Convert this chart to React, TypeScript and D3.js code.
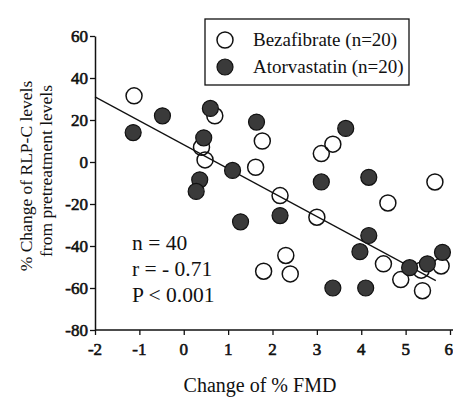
import React, { useRef, useEffect } from "react";
import * as d3 from "d3";

// Bezafibrate (open circles): change of %FMD vs % change of RLP-C
const bezaFmd = [-1.12, 0.7, 0.4, 0.48, 1.77, 1.62, 2.17, 3.36, 3.1, 5.66, 4.6, 3.0, 2.3, 1.8, 2.4, 4.5, 4.89, 5.35, 5.8, 5.38];
const bezaRlp = [31.5, 22, 7, 1, 10, -2.5, -16, 8.5, 4, -9.5, -19.5, -26.3, -44.5, -52, -53.3, -48.5, -56, -51.5, -49.5, -61.3];

// Atorvastatin (filled circles)
const atorFmd = [-1.14, -0.48, 0.6, 0.45, 0.36, 0.28, 1.1, 1.64, 3.65, 3.1, 4.17, 1.28, 2.17, 3.36, 4.17, 3.97, 5.09, 5.49, 5.83, 4.1];
const atorRlp = [14, 22, 25.5, 11.5, -8.5, -14, -4, 19, 16, -9.5, -7.3, -28.5, -25.5, -60, -35, -42.7, -50.3, -48.5, -43, -60];

// regression line end points
const fitFmd = [-2, 5.68];
const fitRlp = [31, -56.5];

const xTicks = [-2, -1, 0, 1, 2, 3, 4, 5, 6];
const yTicks = [-80, -60, -40, -20, 0, 20, 40, 60];

const legendLabels = ["Bezafibrate (n=20)", "Atorvastatin (n=20)"];
const statLines = ["n = 40", "r = - 0.71", "P < 0.001"];

export default function App() {
  const ref = useRef<SVGSVGElement>(null);

  useEffect(() => {
    const width = 453;
    const height = 397;
    const margin = { top: 36, right: 3, bottom: 67, left: 95 };
    const font = "'Liberation Serif', serif";

    const svg = d3.select(ref.current);
    svg.selectAll("*").remove();

    const x = d3.scaleLinear().domain([-2, 6]).range([margin.left, 450]);
    const y = d3.scaleLinear().domain([-80, 60]).range([height - margin.bottom, margin.top]);
    const x0 = height - margin.bottom;

    // Axes (lines + ticks from d3, labels drawn below)
    const yAxis = svg
      .append("g")
      .attr("transform", `translate(${margin.left},0)`)
      .call(d3.axisLeft(y).tickValues(yTicks).tickFormat(() => "").tickSize(5).tickSizeOuter(0));
    const xAxis = svg
      .append("g")
      .attr("transform", `translate(0,${x0})`)
      .call(d3.axisBottom(x).tickValues(xTicks).tickFormat(() => "").tickSize(5).tickSizeOuter(0));

    [xAxis, yAxis].forEach((g) => {
      g.select(".domain").attr("stroke", "#111").attr("stroke-width", 1.5);
      g.selectAll(".tick line").attr("stroke", "#111").attr("stroke-width", 1.3);
    });
    xAxis.select(".domain").attr("d", `M${margin.left},0H${width}`);

    // tick labels: heavy serif numbers
    const tickText = (sel) =>
      sel
        .attr("fill", "#111")
        .attr("stroke", "#111")
        .attr("stroke-width", 0.6)
        .attr("font-family", font)
        .attr("font-size", 17)
        .attr("font-weight", "normal");

    svg
      .append("g")
      .selectAll("text")
      .data(yTicks)
      .join("text")
      .attr("x", margin.left - 7)
      .attr("y", (d) => y(d) + 6)
      .attr("text-anchor", "end")
      .call(tickText)
      .text((d) => String(d));

    svg
      .append("g")
      .selectAll("text")
      .data(xTicks)
      .join("text")
      .attr("x", (d) => (d === 6 ? width : x(d)))
      .attr("y", x0 + 25)
      .attr("text-anchor", (d) => (d === 6 ? "end" : "middle"))
      .call(tickText)
      .text((d) => String(d));

    // Regression line
    svg
      .append("line")
      .attr("x1", x(fitFmd[0]))
      .attr("y1", y(fitRlp[0]))
      .attr("x2", x(fitFmd[1]))
      .attr("y2", y(fitRlp[1]))
      .attr("stroke", "#111")
      .attr("stroke-width", 1.2);

    // Points
    const r = 8;
    svg
      .append("g")
      .selectAll("circle")
      .data(bezaFmd.map((d, i) => [d, bezaRlp[i]]))
      .join("circle")
      .attr("cx", (d) => x(d[0]))
      .attr("cy", (d) => y(d[1]))
      .attr("r", r)
      .attr("fill", "none")
      .attr("stroke", "#111")
      .attr("stroke-width", 1.5);

    svg
      .append("g")
      .selectAll("circle")
      .data(atorFmd.map((d, i) => [d, atorRlp[i]]))
      .join("circle")
      .attr("cx", (d) => x(d[0]))
      .attr("cy", (d) => y(d[1]))
      .attr("r", r)
      .attr("fill", "#3a3a3a")
      .attr("stroke", "#111")
      .attr("stroke-width", 1.2);

    // Legend
    const legend = svg.append("g").attr("transform", "translate(205,19)");
    legend
      .append("rect")
      .attr("width", 204)
      .attr("height", 66)
      .attr("fill", "white")
      .attr("stroke", "#111")
      .attr("stroke-width", 1.3);
    legendLabels.forEach((label, i) => {
      const cy = 21 + i * 27;
      legend
        .append("circle")
        .attr("cx", 20)
        .attr("cy", cy)
        .attr("r", r)
        .attr("fill", i === 0 ? "white" : "#3a3a3a")
        .attr("stroke", "#111")
        .attr("stroke-width", i === 0 ? 1.5 : 1.2);
      legend
        .append("text")
        .attr("x", 48)
        .attr("y", cy + 6)
        .attr("fill", "#111")
        .attr("font-family", font)
        .attr("font-size", 19)
        .text(label);
    });

    // Statistics
    statLines.forEach((t, i) => {
      svg
        .append("text")
        .attr("x", 132)
        .attr("y", 250 + i * 26)
        .attr("fill", "#111")
        .attr("font-family", font)
        .attr("font-size", 21.5)
        .text(t);
    });

    // X axis title
    svg
      .append("text")
      .attr("x", 260)
      .attr("y", 392)
      .attr("text-anchor", "middle")
      .attr("fill", "#111")
      .attr("font-family", font)
      .attr("font-size", 20)
      .text("Change of % FMD");

    // Y axis title (two lines)
    ["% Change of RLP-C levels", "from pretreatment levels"].forEach((t, i) => {
      svg
        .append("text")
        .attr("transform", `translate(${32 + i * 20},${176 - i * 5}) rotate(-90)`)
        .attr("text-anchor", "middle")
        .attr("fill", "#111")
        .attr("font-family", font)
        .attr("font-size", 17.5)
        .text(t);
    });
  }, []);

  return (
    <svg
      ref={ref}
      width={453}
      height={397}
      style={{ position: "absolute", left: 0, top: 0, background: "white" }}
    />
  );
}
